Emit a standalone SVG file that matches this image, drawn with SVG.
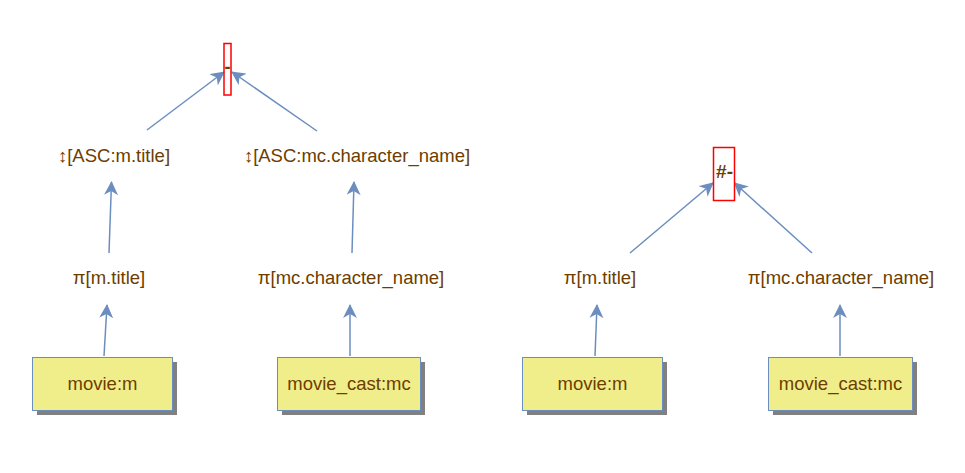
<svg xmlns="http://www.w3.org/2000/svg" width="965" height="473" viewBox="0 0 965 473">
<style>
.t{font-family:"Liberation Sans",Arial,sans-serif;font-size:18.5px;fill:#6e3d00;text-anchor:middle}
.op{font-family:"Liberation Sans",Arial,sans-serif;font-size:18px;font-weight:bold;fill:#6e3d00}
.box{fill:#f0ee8a;stroke:#6c8ebf;stroke-width:1}
.sh{fill:#808080}
.opb{fill:none;stroke:#ff0000;stroke-width:1.5}
.e{stroke:#6c8ebf;stroke-width:1.5;fill:none;marker-end:url(#ah)}
</style>
<defs>
<marker id="ah" viewBox="0 0 14 14" refX="13" refY="7" markerWidth="14" markerHeight="14" markerUnits="userSpaceOnUse" orient="auto">
<path d="M0,0 L14,7 L0,14 L4,7 Z" fill="#6c8ebf"/>
</marker>
</defs>
<rect width="965" height="473" fill="#ffffff"/>
<g id="connectors">
<line class="e" x1="147" y1="130" x2="224" y2="72"/>
<line class="e" x1="317" y1="131" x2="232" y2="72"/>
<line class="e" x1="109" y1="253" x2="111.5" y2="182"/>
<line class="e" x1="352" y1="253" x2="354" y2="182"/>
<line class="e" x1="104" y1="356" x2="107" y2="305"/>
<line class="e" x1="350" y1="356" x2="350" y2="305"/>
<line class="e" x1="630" y1="253" x2="713" y2="183"/>
<line class="e" x1="812" y1="253" x2="734.5" y2="183"/>
<line class="e" x1="595" y1="356" x2="597" y2="305"/>
<line class="e" x1="840" y1="356" x2="840" y2="305"/>
</g>
<g id="minus">
<rect class="opb" x="224" y="43.5" width="7" height="51.5"/>
<text class="op" x="227.5" y="73" text-anchor="middle">-</text>
</g>
<g id="sort1"><text class="t" x="114" y="161.5">↕[ASC:m.title]</text></g>
<g id="sort2"><text class="t" x="357" y="161.5">↕[ASC:mc.character_name]</text></g>
<g id="proj1"><text class="t" x="109" y="283.5">π[m.title]</text></g>
<g id="proj2"><text class="t" x="351" y="283.5">π[mc.character_name]</text></g>
<g id="movie1">
<rect class="sh" x="37" y="362" width="140" height="53"/>
<rect class="box" x="32.5" y="357.5" width="140" height="53"/>
<text class="t" x="102.5" y="389.5">movie:m</text>
</g>
<g id="cast1">
<rect class="sh" x="282" y="362" width="143" height="53"/>
<rect class="box" x="277.5" y="357.5" width="143" height="53"/>
<text class="t" x="349" y="389.5">movie_cast:mc</text>
</g>
<g id="count">
<rect class="opb" x="713.5" y="147.5" width="21" height="53"/>
<text class="op" x="716" y="177.5" textLength="17" lengthAdjust="spacingAndGlyphs">#-</text>
</g>
<g id="proj3"><text class="t" x="600" y="283.5">π[m.title]</text></g>
<g id="proj4"><text class="t" x="841" y="283.5">π[mc.character_name]</text></g>
<g id="movie2">
<rect class="sh" x="527" y="362" width="140" height="53"/>
<rect class="box" x="522.5" y="357.5" width="140" height="53"/>
<text class="t" x="592.5" y="389.5">movie:m</text>
</g>
<g id="cast2">
<rect class="sh" x="773" y="362" width="144" height="53"/>
<rect class="box" x="768.5" y="357.5" width="144" height="53"/>
<text class="t" x="840.5" y="389.5">movie_cast:mc</text>
</g>
</svg>
